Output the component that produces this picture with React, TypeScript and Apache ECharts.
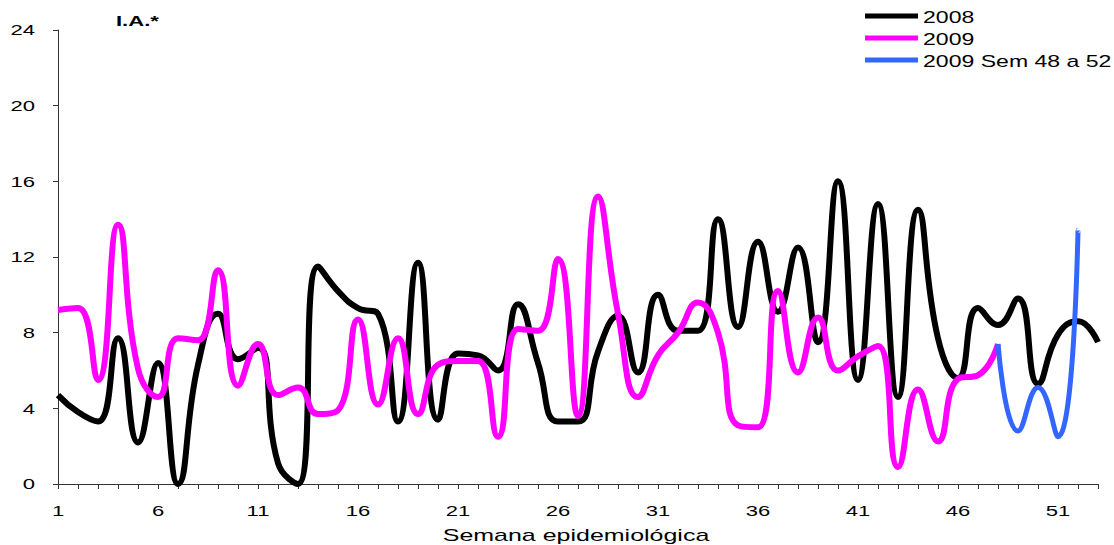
import React, { useEffect, useRef } from "react";
import * as echarts from "echarts";

// Epidemiological weeks 1..53
const weeks: string[] = Array.from({ length: 53 }, (_, i) => String(i + 1));

// Incidence rate per week, 2008
const ia2008: number[] = [
  4.7, 3.8, 3.3, 7.7, 2.2, 6.4, 0, 6.3, 9.0, 6.6,
  7.2, 1.1, 0, 11.5, 10.2, 9.3, 9.0, 3.3, 11.7, 3.4,
  6.9, 6.8, 6.0, 9.5, 6.4, 3.3, 3.3, 7.0, 8.9, 5.9,
  10.0, 8.1, 8.1, 14.0, 8.3, 12.8, 9.1, 12.5, 7.5, 16.0,
  5.5, 14.8, 4.6, 14.5, 7.7, 5.6, 9.3, 8.4, 9.8, 5.3,
  7.9, 8.6, 7.5,
];

// Incidence rate per week, 2009 (weeks 1..48)
const ia2009: number[] = [
  9.2, 9.3, 5.5, 13.7, 6.1, 4.6, 7.7, 7.6, 11.3, 5.2,
  7.4, 4.7, 5.1, 3.7, 3.9, 8.7, 4.2, 7.7, 3.7, 6.3,
  6.5, 6.5, 2.5, 8.2, 8.1, 11.9, 3.6, 15.2, 9.0, 4.6,
  6.8, 8.0, 9.6, 8.0, 3.1, 3.0, 10.2, 5.9, 8.8, 6.0,
  6.75, 7.3, 0.9, 5.0, 2.25, 5.56, 5.75, 7.4,
];

// Incidence rate 2009, weeks 48..52
const ia2009Late: number[] = [7.4, 2.8, 5.1, 2.5, 13.4];
const lateStartWeek = 48;

// Y axis scale and its tick labels
const yMin = 0;
const yMax = 24;
const yStep = 4;
const yTickLabels: number[] = [0, 4, 8, 12, 16, 20, 24];
// Every fifth week carries a label
const xLabelEvery = 5;

const seriesNames: string[] = ["2008", "2009", "2009 Sem 48 a 52"];
const seriesColors: string[] = ["#000000", "#ff00ff", "#3366ff"];

const series2009 = weeks.map((_, i) => (i < ia2009.length ? ia2009[i] : null));
const series2009Late = weeks.map((_, i) => {
  const k = i - (lateStartWeek - 1);
  return k >= 0 && k < ia2009Late.length ? ia2009Late[k] : null;
});

const FONT = "'Liberation Sans', Arial, sans-serif";
// Wide lettering used throughout the chart
const STRETCH = 1.47;

function wideText(text: string, x: number, y: number, opts: any = {}) {
  return {
    type: "text",
    x,
    y,
    scaleX: STRETCH,
    silent: true,
    style: {
      text,
      x: 0,
      y: 0,
      fill: "#000",
      fontFamily: FONT,
      fontSize: opts.fontSize ?? 15,
      fontWeight: opts.fontWeight ?? "normal",
      align: opts.align ?? "left",
      verticalAlign: opts.verticalAlign ?? "middle",
    },
  };
}

export default function App() {
  const ref = useRef<HTMLDivElement>(null);

  useEffect(() => {
    if (!ref.current) return;
    const chart = echarts.init(ref.current, undefined, { renderer: "svg" });
    chart.setOption({
      animation: false,
      backgroundColor: "#ffffff",
      textStyle: { fontFamily: FONT },
      grid: { left: 58, right: 16, top: 30, bottom: 61, containLabel: false },
      xAxis: {
        type: "category",
        data: weeks,
        boundaryGap: false,
        axisLine: { lineStyle: { color: "#333", width: 1 } },
        axisTick: { show: true, interval: 0, length: 5, lineStyle: { color: "#333" } },
        axisLabel: { show: false },
        splitLine: { show: false },
      },
      yAxis: {
        type: "value",
        min: yMin,
        max: yMax,
        interval: yStep,
        axisLine: { show: true, lineStyle: { color: "#333", width: 1 } },
        axisTick: { show: true, length: 5, lineStyle: { color: "#333" } },
        axisLabel: { show: false },
        splitLine: { show: false },
      },
      series: [
        {
          name: seriesNames[0],
          type: "line",
          data: ia2008,
          smooth: 0.5,
          showSymbol: false,
          symbol: "none",
          color: seriesColors[0],
          lineStyle: { width: 6, color: seriesColors[0] },
          z: 2,
        },
        {
          name: seriesNames[1],
          type: "line",
          data: series2009,
          smooth: 0.5,
          showSymbol: false,
          symbol: "none",
          color: seriesColors[1],
          lineStyle: { width: 6, color: seriesColors[1] },
          z: 3,
        },
        {
          name: seriesNames[2],
          type: "line",
          data: series2009Late,
          smooth: 0.5,
          showSymbol: false,
          symbol: "none",
          color: seriesColors[2],
          lineStyle: { width: 5, color: seriesColors[2], cap: "butt" },
          z: 4,
        },
      ],
    });

    // Axis labels, positioned through the axes' own scales
    const texts: any[] = [];
    weeks.forEach((w, i) => {
      if (i % xLabelEvery !== 0) return;
      const [px, py] = chart.convertToPixel({ gridIndex: 0 }, [i, yMin]) as number[];
      texts.push(wideText(w, px, py + 19, { align: "center", verticalAlign: "top" }));
    });
    yTickLabels.forEach((v) => {
      const [px, py] = chart.convertToPixel({ gridIndex: 0 }, [0, v]) as number[];
      texts.push(wideText(String(v), px - 23, py, { align: "right" }));
    });

    // Axis title and unit
    const [x0] = chart.convertToPixel({ gridIndex: 0 }, [0, yMin]) as number[];
    const [x1, yBottom] = chart.convertToPixel({ gridIndex: 0 }, [weeks.length - 1, yMin]) as number[];
    texts.push(
      wideText("Semana epidemiológica", (x0 + x1) / 2 - 2, yBottom + 51, {
        align: "center",
        fontSize: 17,
      })
    );
    texts.push(wideText("I.A.*", 116, 21, { fontWeight: "bold", fontSize: 15 }));

    // Legend
    const legendItems: any[] = [];
    seriesNames.forEach((name, k) => {
      const cy = 16 + k * 22;
      legendItems.push({
        type: "line",
        silent: true,
        shape: { x1: 865, y1: cy, x2: 918, y2: cy },
        style: { stroke: seriesColors[k], lineWidth: 5 },
      });
      legendItems.push(wideText(name, 923, cy + 1, { fontSize: 15.7 }));
    });

    chart.setOption({ graphic: [...texts, ...legendItems] });

    return () => chart.dispose();
  }, []);

  return (
    <div
      ref={ref}
      style={{ position: "fixed", left: 0, top: 0, width: 1114, height: 545, background: "#fff" }}
    />
  );
}
